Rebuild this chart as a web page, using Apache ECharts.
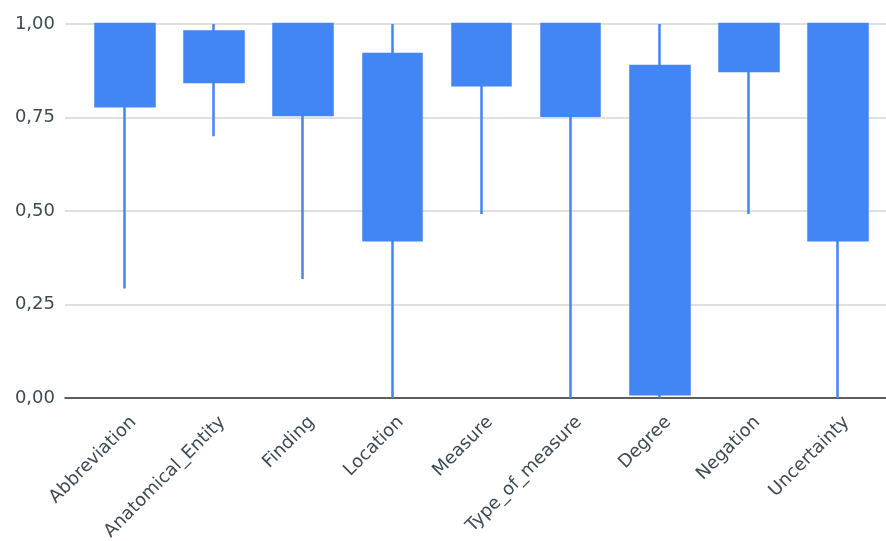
<!DOCTYPE html>
<html>
<head>
<meta charset="utf-8">
<script src="https://cdn.jsdelivr.net/npm/echarts@6/dist/echarts.min.js"></script>
<style>
  html, body { margin: 0; padding: 0; background: #fff; }
  #chart { width: 886px; height: 541px; }
</style>
</head>
<body>
<div id="chart"></div>
<script>
const categories = ['Abbreviation', 'Anatomical_Entity', 'Finding', 'Location', 'Measure',
  'Type_of_measure', 'Degree', 'Negation', 'Uncertainty']
// box bottom / top, whisker low / high
const boxLow = [0.78, 0.845, 0.757, 0.422, 0.836, 0.755, 0.010, 0.874, 0.422]
const boxHigh = [1.00, 0.980, 1.000, 0.920, 1.000, 1.000, 0.888, 1.000, 1.000]
const whiskerLow = [0.293, 0.70, 0.318, 0.0, 0.492, 0.0, 0.0, 0.492, 0.0]
const whiskerHigh = [1.00, 1.00, 1.00, 1.00, 1.00, 1.00, 1.00, 1.00, 1.00]

const yTicks = { min: 0, max: 1, interval: 0.25 }

const blue = '#4285f4'
const textColor = '#3d4b56'
const fontFamily = 'DejaVu Sans'

const candleData = categories.map((c, i) => [boxLow[i], boxHigh[i], whiskerLow[i], whiskerHigh[i]])

const chart = echarts.init(document.getElementById('chart'))
chart.setOption({
  animation: false,
  textStyle: { fontFamily: fontFamily },
  grid: [
    // background grid: gridlines + baseline, reaching further left
    { left: 65, right: 0, top: 24, bottom: 143, outerBoundsMode: 'none' },
    // plot grid for the boxes
    { left: 80.4, right: 3.4, top: 24, bottom: 143, outerBoundsMode: 'none' },
  ],
  xAxis: [
    {
      gridIndex: 0,
      type: 'value',
      min: 0,
      max: 1,
      axisLine: { show: true, onZero: false, lineStyle: { color: '#333', width: 1.5 } },
      axisTick: { show: false },
      axisLabel: { show: false },
      splitLine: { show: false },
    },
    {
      gridIndex: 1,
      type: 'category',
      data: categories,
      axisLine: { show: false },
      axisTick: { show: false },
      axisLabel: {
        rotate: 45,
        interval: 0,
        margin: 13,
        // hang the rotated text a little right of the tick
        verticalAlign: 'top',
        lineHeight: 24,
        color: textColor,
        fontSize: 18,
        fontFamily: fontFamily,
      },
    },
  ],
  yAxis: [
    {
      gridIndex: 0,
      type: 'value',
      min: yTicks.min,
      max: yTicks.max,
      interval: yTicks.interval,
      axisLine: { show: false },
      axisTick: { show: false },
      axisLabel: {
        margin: 10,
        color: textColor,
        fontSize: 18,
        fontFamily: fontFamily,
        formatter: v => v.toFixed(2).replace('.', ','),
      },
      splitLine: { lineStyle: { color: '#d6d6d6', width: 1.5 } },
    },
    {
      gridIndex: 1,
      type: 'value',
      min: yTicks.min,
      max: yTicks.max,
      interval: yTicks.interval,
      axisLine: { show: false },
      axisTick: { show: false },
      axisLabel: { show: false },
      splitLine: { show: false },
    },
  ],
  series: [
    {
      type: 'candlestick',
      xAxisIndex: 1,
      yAxisIndex: 1,
      barWidth: 59,
      data: candleData,
      itemStyle: {
        color: blue,
        color0: blue,
        borderColor: blue,
        borderColor0: blue,
        borderWidth: 2.5,
      },
    },
  ],
})
</script>
</body>
</html>
